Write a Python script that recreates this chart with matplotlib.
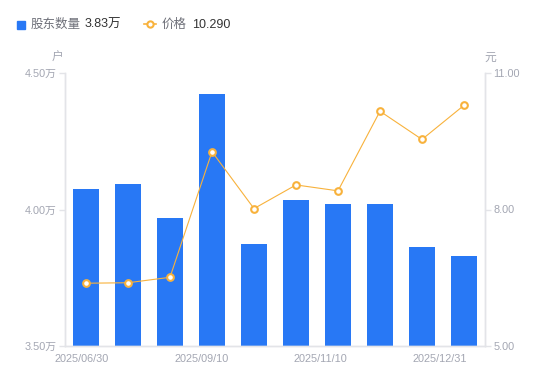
import matplotlib
matplotlib.use("Agg")
import matplotlib.pyplot as plt
import numpy as np

plt.rcParams['font.family'] = ['Liberation Sans', 'Noto Sans CJK SC', 'DejaVu Sans']

# Data
dates = ["2025/06/30", "2025/07/xx", "2025/08/xx", "2025/09/10", "2025/09/xx",
         "2025/10/xx", "2025/11/10", "2025/11/xx", "2025/12/xx", "2025/12/31"]
holders = [4.075, 4.093, 3.969, 4.423, 3.874, 4.035, 4.020, 4.020, 3.863, 3.830]  # 万户
price = [6.38, 6.39, 6.51, 9.27, 8.02, 8.54, 8.41, 10.16, 9.54, 10.29]
xtick_labels = ["2025/06/30", "2025/09/10", "2025/11/10", "2025/12/31"]
left_ticks = [3.50, 4.00, 4.50]
right_ticks = [5.00, 8.00, 11.00]

BLUE = '#2878F5'
ORANGE = '#F8B23C'
GREY = '#A3A6B2'
SPINE = '#E3E4E8'

fig = plt.figure(figsize=(5.5, 3.81), dpi=100)
ax = fig.add_axes([65/550, 35/381, 420/550, 273/381])
x = np.arange(len(holders))
ax.bar(x, holders, width=0.62, color=BLUE, zorder=2)
ax.set_xlim(-0.5, len(holders) - 0.5)
ax.set_ylim(3.5, 4.5)
ax.set_yticks(left_ticks)
ax.set_yticklabels([f"{v:.2f}万" for v in left_ticks])

ax2 = ax.twinx()
ax2.plot(x, price, color=ORANGE, lw=0.8, marker='o', ms=4.8, mfc='white',
         mec=ORANGE, mew=1.5, zorder=3)
ax2.set_ylim(5, 11)
ax2.set_yticks(right_ticks)
ax2.set_yticklabels([f"{v:.2f}" for v in right_ticks])

xt = np.linspace(-0.1, 8.43, len(xtick_labels))
ax.set_xticks(xt)
ax.set_xticklabels(xtick_labels)

for a in (ax, ax2):
    for s in a.spines.values():
        s.set_color(SPINE)
        s.set_linewidth(1)
    a.spines['top'].set_visible(False)
    a.tick_params(axis='both', colors=SPINE, labelcolor=GREY, labelsize=7.8, length=4, width=1, pad=2)
ax.tick_params(axis='x', length=0, pad=6)

fig.text(58/550, 1 - 58/381, "户", color=GREY, fontsize=8.5, ha='center', va='center')
fig.text(490/550, 1 - 58/381, "元", color=GREY, fontsize=8.5, ha='center', va='center')

# Legend
ly = 1 - 25/381
fig.patches.append(plt.Rectangle((17/550, 1 - 29/381), 8/550, 8/381, transform=fig.transFigure,
                                 color=BLUE, figure=fig))
fig.text(31/550, ly, "股东数量", color='#6E7079', fontsize=9, va='center')
fig.text(85/550, ly, f"{holders[-1]:.2f}万", color='#333333', fontsize=9, va='center')
fig.lines.append(plt.Line2D([144/550, 156/550], [1 - 24/381, 1 - 24/381], transform=fig.transFigure,
                            color=ORANGE, lw=1.2))
fig.lines.append(plt.Line2D([150/550], [1 - 24/381], transform=fig.transFigure,
                            color=ORANGE, marker='o', ms=4.5, mfc='white', mew=1.5, lw=0))
fig.text(162/550, ly, "价格", color='#6E7079', fontsize=9, va='center')
fig.text(192/550, ly, f"{price[-1]:.3f}", color='#333333', fontsize=9, va='center')

fig.savefig("out.png", dpi=100)
